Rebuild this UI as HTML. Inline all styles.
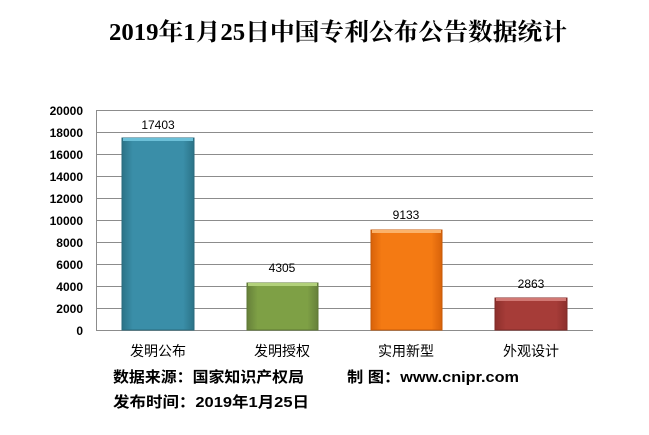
<!DOCTYPE html>
<html><head><meta charset="utf-8"><style>
body{margin:0;background:#fff;width:649px;height:430px;overflow:hidden}
</style></head><body>
<svg width="649" height="430" xmlns="http://www.w3.org/2000/svg" font-family="'Liberation Sans','Noto Sans CJK SC',sans-serif">
<defs>
<linearGradient id="g1" x1="0" x2="1"><stop offset="0" stop-color="#2b7387"/><stop offset=".15" stop-color="#3a8ea8"/><stop offset=".85" stop-color="#3a8ea8"/><stop offset="1" stop-color="#2b7387"/></linearGradient>
<linearGradient id="g2" x1="0" x2="1"><stop offset="0" stop-color="#66803a"/><stop offset=".15" stop-color="#7ea045"/><stop offset=".85" stop-color="#7ea045"/><stop offset="1" stop-color="#66803a"/></linearGradient>
<linearGradient id="g3" x1="0" x2="1"><stop offset="0" stop-color="#d8620a"/><stop offset=".15" stop-color="#f47a13"/><stop offset=".85" stop-color="#f47a13"/><stop offset="1" stop-color="#d8620a"/></linearGradient>
<linearGradient id="g4" x1="0" x2="1"><stop offset="0" stop-color="#8c2f2c"/><stop offset=".15" stop-color="#a63c38"/><stop offset=".85" stop-color="#a63c38"/><stop offset="1" stop-color="#8c2f2c"/></linearGradient>
</defs>
<text x="338" y="40" text-anchor="middle" font-size="24" font-weight="bold" font-family="'Liberation Serif','Noto Serif CJK SC',serif" textLength="458" lengthAdjust="spacingAndGlyphs">2019年1月25日中国专利公布公告数据统计</text>
<g stroke="#8c8c8c" stroke-width="1">
<line x1="96" y1="110.5" x2="593" y2="110.5"/><line x1="96" y1="132.5" x2="593" y2="132.5"/><line x1="96" y1="154.5" x2="593" y2="154.5"/><line x1="96" y1="176.5" x2="593" y2="176.5"/><line x1="96" y1="198.5" x2="593" y2="198.5"/><line x1="96" y1="220.5" x2="593" y2="220.5"/><line x1="96" y1="242.5" x2="593" y2="242.5"/><line x1="96" y1="264.5" x2="593" y2="264.5"/><line x1="96" y1="286.5" x2="593" y2="286.5"/><line x1="96" y1="308.5" x2="593" y2="308.5"/><line x1="96" y1="330.5" x2="593" y2="330.5"/>
<line x1="96.5" y1="110" x2="96.5" y2="331"/>
</g>
<g font-size="12" font-weight="bold" text-anchor="end">
<text x="83" y="115">20000</text><text x="83" y="137">18000</text><text x="83" y="159">16000</text><text x="83" y="181">14000</text><text x="83" y="203">12000</text><text x="83" y="225">10000</text><text x="83" y="247">8000</text><text x="83" y="269">6000</text><text x="83" y="291">4000</text><text x="83" y="313">2000</text><text x="83" y="335">0</text>
</g>
<rect x="122" y="138" width="72" height="192" fill="url(#g1)" stroke="#2a6a7d"/><rect x="123" y="138" width="70" height="3" fill="#6cc0d8"/>
<rect x="247" y="283" width="71" height="47" fill="url(#g2)" stroke="#5e7834"/><rect x="248" y="283" width="69" height="3" fill="#b2d17a"/>
<rect x="371" y="230" width="71" height="100" fill="url(#g3)" stroke="#c65a08"/><rect x="372" y="230" width="69" height="3" fill="#fbb26a"/>
<rect x="495" y="298" width="72" height="32" fill="url(#g4)" stroke="#7f2a27"/><rect x="496" y="298" width="70" height="3" fill="#d17874"/>
<g font-size="12" text-anchor="middle">
<text x="158" y="129">17403</text><text x="282" y="272">4305</text><text x="406" y="219">9133</text><text x="531" y="288">2863</text>
</g>
<g font-size="14" text-anchor="middle">
<text x="158" y="356">发明公布</text><text x="282" y="356">发明授权</text><text x="406" y="356">实用新型</text><text x="531" y="356">外观设计</text>
</g>
<g font-size="15" font-weight="bold">
<text x="113" y="382" textLength="191" lengthAdjust="spacingAndGlyphs">数据来源：国家知识产权局</text>
<text x="347" y="382" textLength="172" lengthAdjust="spacingAndGlyphs">制  图：www.cnipr.com</text>
<text x="113" y="407" textLength="196" lengthAdjust="spacingAndGlyphs">发布时间：2019年1月25日</text>
</g>
</svg>
</body></html>
